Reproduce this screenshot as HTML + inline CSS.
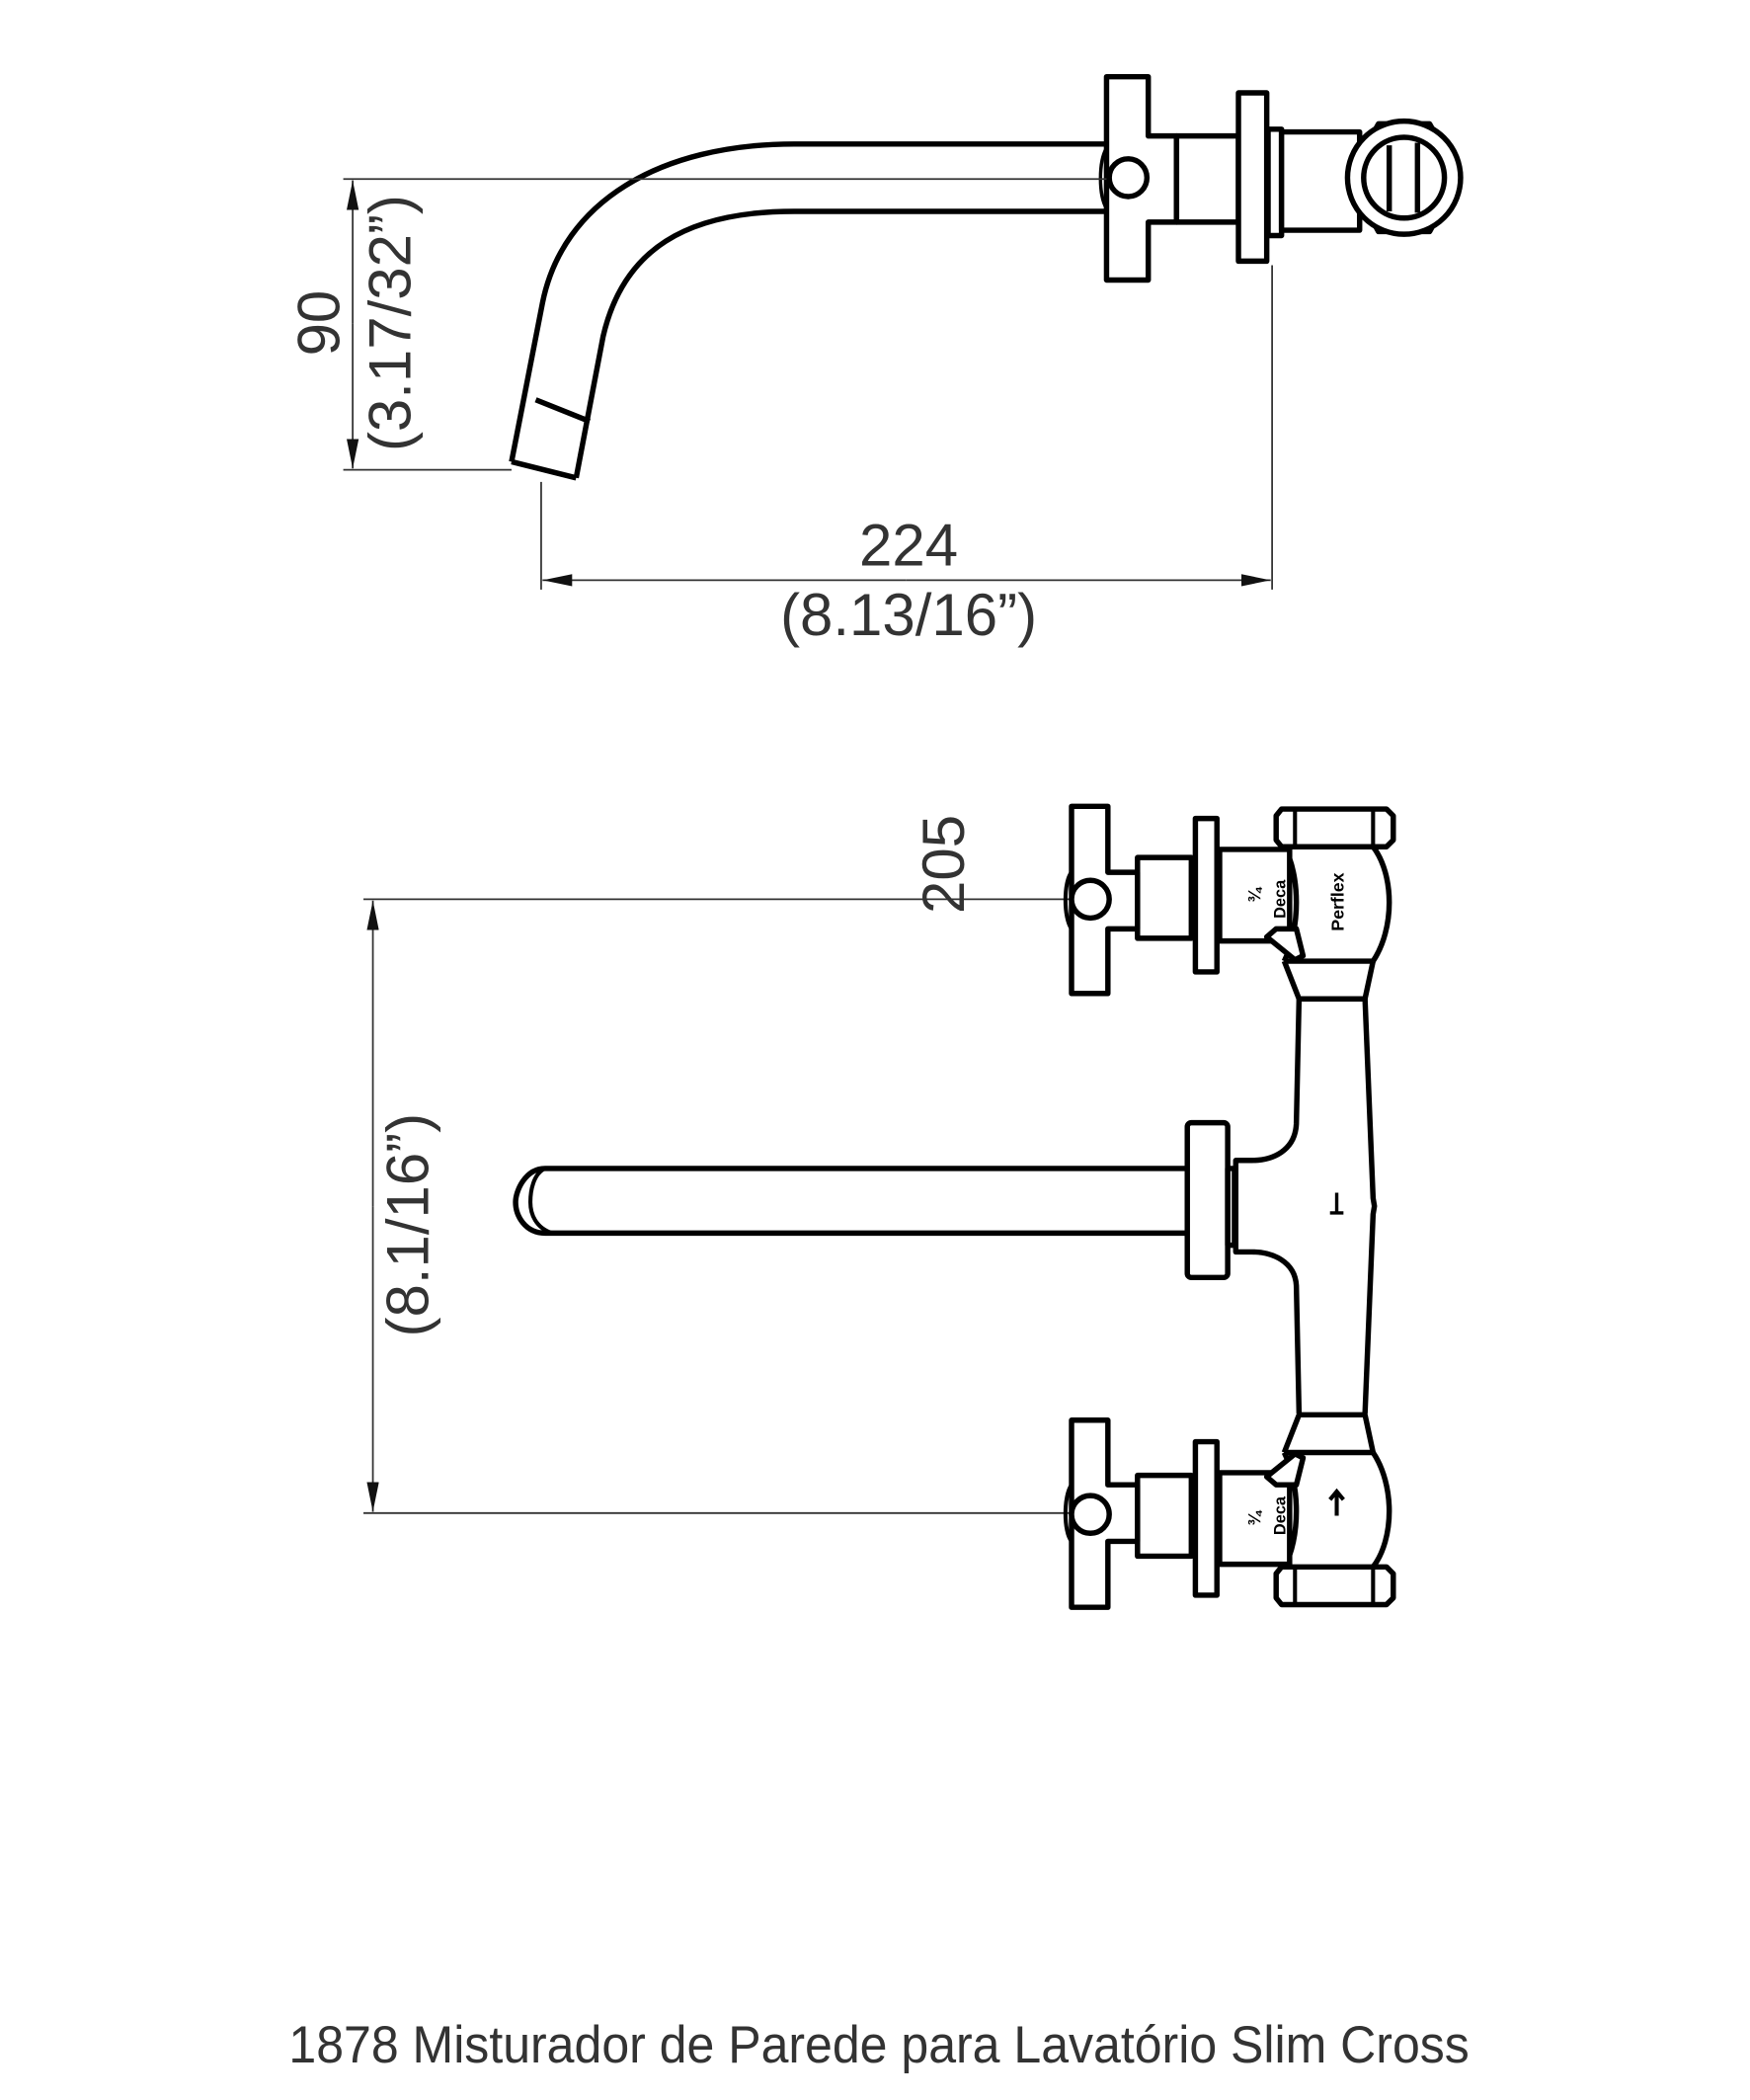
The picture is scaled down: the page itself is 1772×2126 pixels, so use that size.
<!DOCTYPE html>
<html><head><meta charset="utf-8"><style>html,body{margin:0;padding:0;background:#fff}svg{display:block}</style></head>
<body>
<svg width="1772" height="2126" viewBox="0 0 1300 1560" preserveAspectRatio="none" xmlns="http://www.w3.org/2000/svg">
<defs>
<marker id="ar" viewBox="0 0 22 9" refX="22" refY="4.5" markerWidth="22" markerHeight="9" markerUnits="userSpaceOnUse" orient="auto" preserveAspectRatio="none"><path d="M0,0L22,4.5L0,9z" fill="#111"/></marker>
</defs>
<g fill="none" stroke="#000" stroke-width="4" stroke-linejoin="round">
<!-- TOP VIEW spout -->
<path d="M380,343 L403,225 C418,150 490,107 590,107 L822,107"/>
<path d="M428,355 L448,250 C463,185 510,157 590,157 L822,157"/>
<path d="M380,343 L428,355"/>
<path d="M398,297 L438,313"/>
<!-- cross handle -->
<path d="M822,57 H853 V101 H874 V165 H853 V208 H822 Z" fill="#fff"/>
<circle cx="838" cy="132" r="14" fill="#fff"/>
<path d="M822,110 C816,120 816,145 822,155" stroke-width="2.5"/>
<rect x="874" y="101" width="46" height="64" fill="#fff"/>
<rect x="920" y="69" width="21" height="125" fill="#fff"/>
<rect x="942" y="96" width="10" height="79" fill="#fff"/>
<rect x="952" y="98" width="58" height="73" fill="#fff"/>
<polygon points="1024,92 1062,92 1084,132 1062,172 1024,172 1002,132" fill="#fff"/>
<circle cx="1043" cy="132" r="42" fill="#fff"/>
<circle cx="1043" cy="132" r="30"/>
<line x1="1032" y1="108" x2="1032" y2="157"/>
<line x1="1053" y1="106" x2="1053" y2="158"/>
</g>
<!-- top dims -->
<g stroke="#333" stroke-width="1.3" fill="none">
<line x1="255" y1="133" x2="822" y2="133"/>
<line x1="255" y1="349" x2="380" y2="349"/>
<line x1="262" y1="240" x2="262" y2="134" marker-end="url(#ar)"/>
<line x1="262" y1="240" x2="262" y2="348" marker-end="url(#ar)"/>
<line x1="402" y1="358" x2="402" y2="438"/>
<line x1="945" y1="197" x2="945" y2="438"/>
<line x1="673" y1="431" x2="403" y2="431" marker-end="url(#ar)"/>
<line x1="673" y1="431" x2="944" y2="431" marker-end="url(#ar)"/>
</g>
<g font-family="Liberation Sans, sans-serif" fill="#333" font-size="44" text-anchor="middle">
<text x="675" y="420">224</text>
<text x="675" y="472">(8.13/16”)</text>
<text transform="translate(252,240) rotate(-90)">90</text>
<text transform="translate(305,240) rotate(-90)">(3.17/32”)</text>
<text transform="translate(716,642) rotate(-90)">205</text>
<text transform="translate(318,910) rotate(-90)">(8.1/16”)</text>
</g>
<!-- BOTTOM VIEW -->
<g stroke="#333" stroke-width="1.3" fill="none">
<line x1="270" y1="668" x2="795" y2="668"/>
<line x1="270" y1="1124" x2="795" y2="1124"/>
<line x1="277" y1="896" x2="277" y2="669" marker-end="url(#ar)"/>
<line x1="277" y1="896" x2="277" y2="1123" marker-end="url(#ar)"/>
</g>
<g fill="none" stroke="#000" stroke-width="4" stroke-linejoin="round">
<path d="M965,742 L963,835 C962,855 945,862 930,862 L918,862 L918,930 L930,930 C945,930 962,937 963,955 L965,1050"/>
<path d="M1014,742 L1020,890 L1021,896 L1020,902 L1014,1050"/>
<path d="M993,886 V901 M988,901 H998" stroke-width="2.5"/>
<path d="M882,868 H405 C390,868 383,885 383,893 C383,903 390,916 405,916 H882"/>
<path d="M405,868 C396,872 394,885 394,893 C394,902 398,912 410,916" stroke-width="3"/>
<rect x="882" y="834" width="30" height="115" rx="3" fill="#fff"/>
<rect x="912" y="868" width="5" height="57"/>
<g id="valve">
<path d="M954,714 L965,742 H1014 L1020,714"/>
<path d="M954,714 H1020"/>
<path d="M954,629 C966,650 966,690 954,714"/>
<path d="M1020,629 C1036,650 1036,690 1020,714"/>
<path d="M952,601 H1030 L1035,606 V624 L1030,629 H952 L948,624 V606 Z" fill="#fff"/>
<path d="M962,601 V629 M1020,601 V629" stroke-width="3"/>
<rect x="906" y="631" width="52" height="68" fill="#fff"/>
<rect x="888" y="608" width="16" height="114" fill="#fff"/>
<path d="M941,696 L948,690 H963 L968,710 L962,713 Z" fill="#fff"/>
<rect x="845" y="637" width="40" height="60" fill="#fff"/>
<path d="M796,599 H823 V648 H845 V690 H823 V738 H796 Z" fill="#fff"/>
<circle cx="810" cy="668" r="14" fill="#fff"/>
<path d="M796,648 C790,655 790,682 796,690" stroke-width="3"/>
</g>
<use href="#valve" transform="translate(0,1793) scale(1,-1)"/>
</g>
<g font-family="Liberation Sans, sans-serif" font-weight="bold" fill="#000" font-size="13">
<text transform="translate(936,665) rotate(-90)" text-anchor="middle">¾</text>
<text transform="translate(955,668) rotate(-90)" text-anchor="middle" font-size="12">Deca</text>
<text transform="translate(998,670) rotate(-90)" text-anchor="middle" font-size="13">Perflex</text>
<text transform="translate(936,1128) rotate(-90)" text-anchor="middle">¾</text>
<text transform="translate(955,1126) rotate(-90)" text-anchor="middle" font-size="12">Deca</text>
</g>
<path d="M993,1108 V1126 M988,1114 L993,1108 L998,1114" stroke="#000" stroke-width="3" fill="none"/>
<text x="653" y="1532" font-family="Liberation Sans, sans-serif" font-size="39" fill="#333" text-anchor="middle" textLength="877" lengthAdjust="spacingAndGlyphs">1878 Misturador de Parede para Lavatório Slim Cross</text>
</svg>
</body></html>
